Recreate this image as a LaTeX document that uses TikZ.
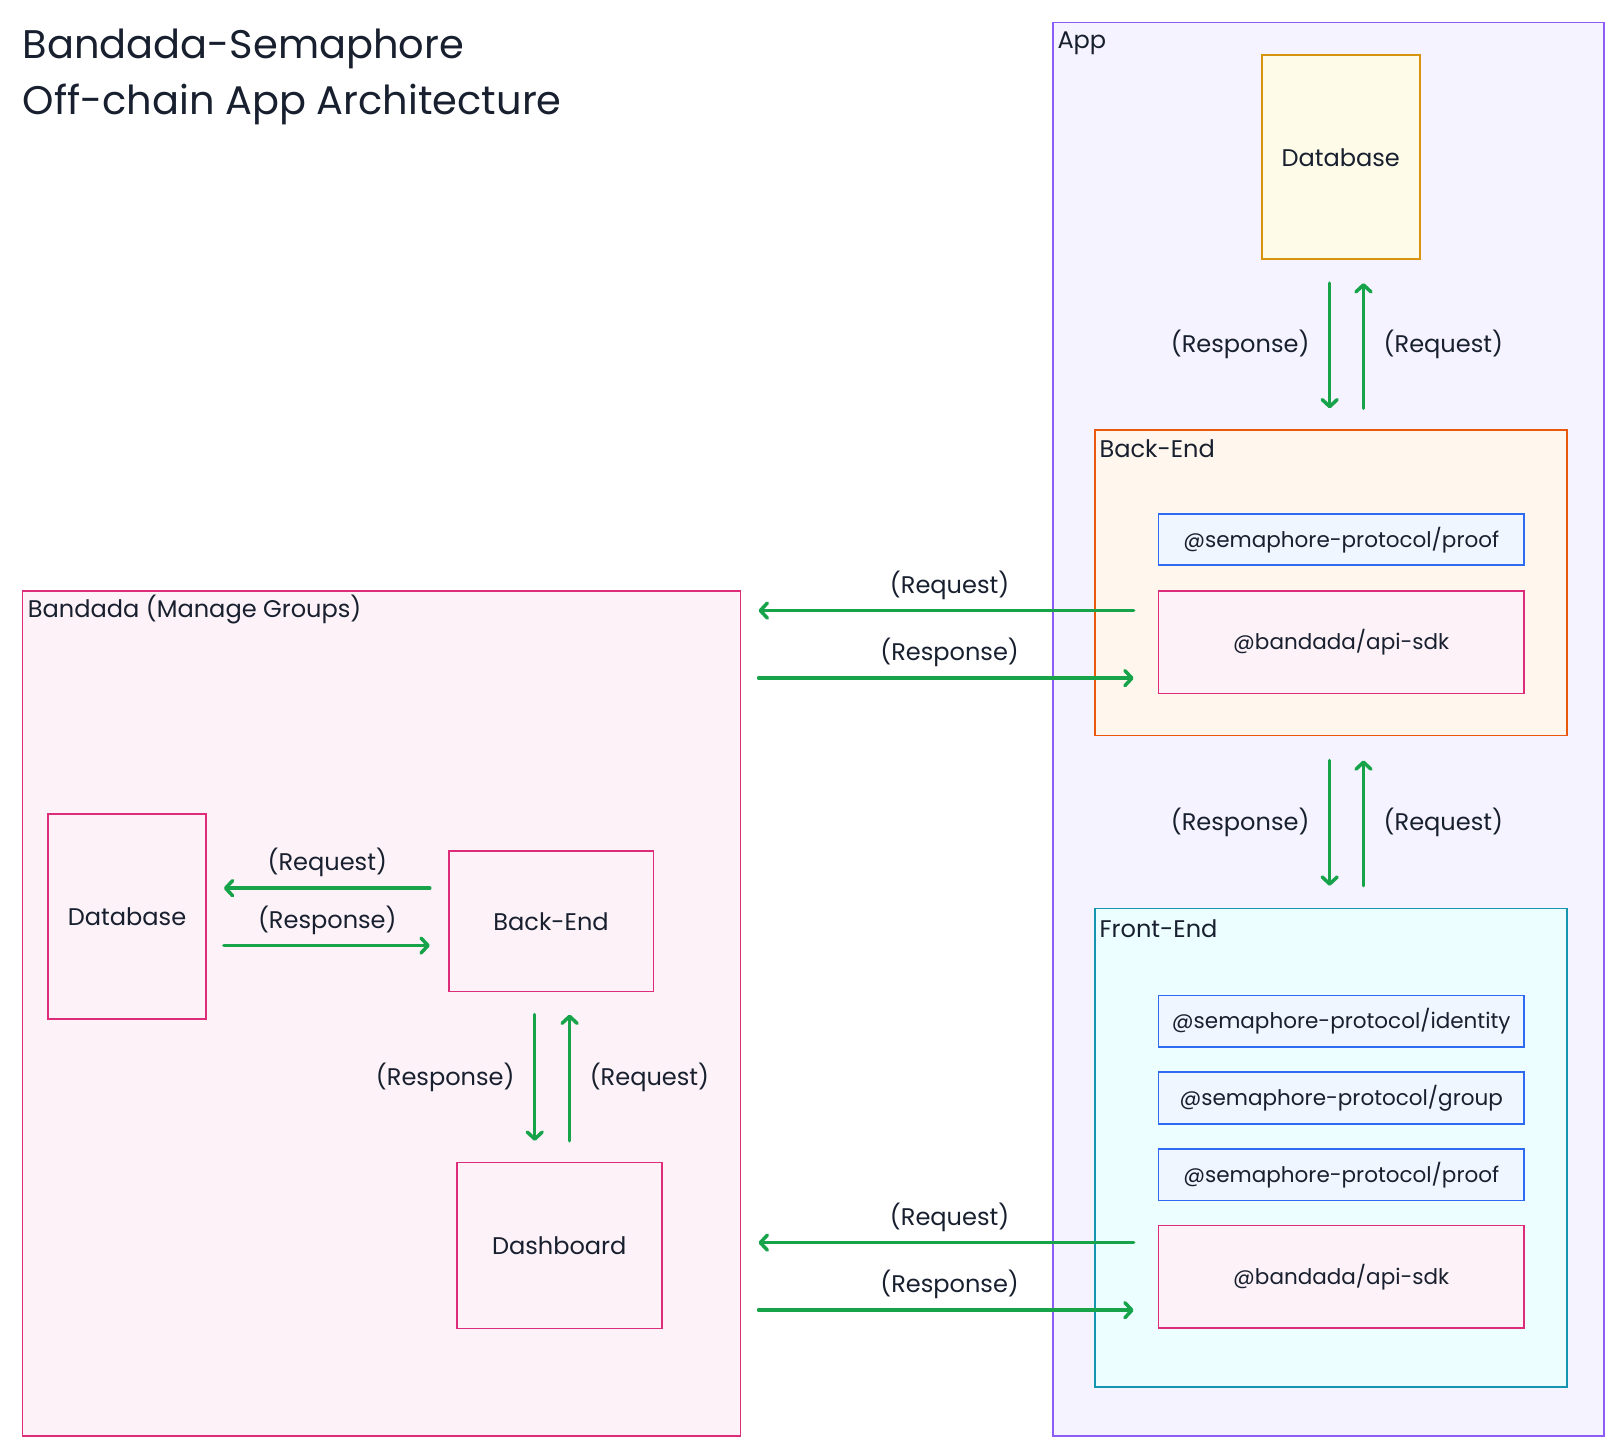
\documentclass[tikz,border=0pt]{standalone}
\usepackage{fontspec}
\setmainfont{Poppins}
\usepackage{tikz}
\usetikzlibrary{arrows.meta,positioning,calc}
\definecolor{ink}{HTML}{18202F}
\definecolor{flowgreen}{HTML}{16A34A}
\definecolor{appline}{HTML}{8B5CF6}
\definecolor{appfill}{HTML}{F5F3FF}
\definecolor{pinkline}{HTML}{DD2C7A}
\definecolor{pinkfill}{HTML}{FDF2F8}
\definecolor{dbline}{HTML}{D6930B}
\definecolor{dbfill}{HTML}{FEFBE8}
\definecolor{beline}{HTML}{EA580C}
\definecolor{befill}{HTML}{FFF7ED}
\definecolor{feline}{HTML}{1496B0}
\definecolor{fefill}{HTML}{ECFEFF}
\definecolor{pkgline}{HTML}{2F6BF0}
\definecolor{pkgfill}{HTML}{EFF6FF}

\begin{document}
\begin{tikzpicture}[x=1pt,y=-1pt,scale=1.0242,every node/.append style={transform shape},
    box/.style={rectangle,line width=1.8pt,inner sep=0pt,text=ink,font=\fontsize{23.5}{28}\selectfont},
    pkg/.style={box,draw=pkgline,fill=pkgfill,minimum width=357pt,minimum height=50pt,font=\fontsize{21}{25}\selectfont},
    sdk/.style={box,draw=pinkline,fill=pinkfill,minimum width=357pt,minimum height=100pt,font=\fontsize{21}{25}\selectfont},
    tag/.style={anchor=west,inner sep=0pt,text=ink,font=\fontsize{23.5}{28}\selectfont},
    flow/.style={draw=flowgreen,line width=3.5pt,line cap=round,-{Straight Barb[length=7pt,width=15pt,round]}},
    lbl/.style={inner sep=0pt,text=ink,font=\fontsize{23.5}{28}\selectfont}]
   \useasboundingbox (0,0) rectangle (1568,1404);

   % title
   \node[anchor=north west,inner sep=0pt,align=left,text=ink,font=\fontsize{39}{55}\selectfont]
     (title) at (22,28) {Bandada-Semaphore\\Off-chain App Architecture};

   % containers
   \node[box,draw=appline,fill=appfill,minimum width=538pt,minimum height=1380pt] (app) at (1297,712) {};
   \node[box,draw=pinkline,fill=pinkfill,minimum width=701pt,minimum height=825pt] (bandada) at (372.5,989.5) {};
   \node[box,draw=beline,fill=befill,minimum width=461pt,minimum height=298pt] (app_be) at (1299.5,569) {};
   \node[box,draw=feline,fill=fefill,minimum width=461pt,minimum height=467pt] (app_fe) at (1299.5,1120.5) {};
   \node[tag] at ([shift={(5pt,-21pt)}]app.north west) {App};
   \node[tag] at ([shift={(6pt,-19pt)}]bandada.north west) {Bandada (Manage Groups)};
   \node[tag] at ([shift={(5pt,-19pt)}]app_be.north west) {Back-End};
   \node[tag] at ([shift={(5pt,-20pt)}]app_fe.north west) {Front-End};

   % app
   \node[box,draw=dbline,fill=dbfill,minimum width=154pt,minimum height=199pt] (app_db) at (1309,153.5) {Database};
   \node[pkg] (be_proof) at (1309.5,527) {@semaphore-protocol/proof};
   \node[sdk] (be_sdk) at (1309.5,627) {@bandada/api-sdk};
   \node[pkg] (fe_id) at (1309.5,997) {@semaphore-protocol/identity};
   \node[pkg] (fe_group) at (1309.5,1072) {@semaphore-protocol/group};
   \node[pkg] (fe_proof) at (1309.5,1147) {@semaphore-protocol/proof};
   \node[sdk] (fe_sdk) at (1309.5,1246.5) {@bandada/api-sdk};

   % bandada
   \node[box,draw=pinkline,fill=pinkfill,minimum width=154pt,minimum height=200pt] (b_db) at (124,895) {Database};
   \node[box,draw=pinkline,fill=pinkfill,minimum width=200pt,minimum height=137pt] (b_be) at (538,899.5) {Back-End};
   \node[box,draw=pinkline,fill=pinkfill,minimum width=200pt,minimum height=162pt] (b_dash) at (546,1216) {Dashboard};

   % app database <-> back-end
   \draw[flow,shorten <=23pt,shorten >=21pt] ([xshift=-11pt]app_db.south) -- ([xshift=-11pt]app_db.south |- app_be.north)
     node[lbl,midway,left=18pt] {(Response)};
   \draw[flow,shorten <=21pt,shorten >=23pt] ([xshift=22pt]app_db.south |- app_be.north) -- ([xshift=22pt]app_db.south)
     node[lbl,midway,right=18pt] {(Request)};

   % back-end <-> front-end
   \draw[flow,shorten <=24pt,shorten >=22pt] ([xshift=-11pt]app_db.south |- app_be.south) -- ([xshift=-11pt]app_db.south |- app_fe.north)
     node[lbl,midway,left=18pt] {(Response)};
   \draw[flow,shorten <=22pt,shorten >=24pt] ([xshift=22pt]app_db.south |- app_fe.north) -- ([xshift=22pt]app_db.south |- app_be.south)
     node[lbl,midway,right=18pt] {(Request)};

   % api-sdk <-> bandada
   \draw[flow,shorten <=24pt,shorten >=17pt] ([yshift=31pt]be_sdk.west) -- ([yshift=31pt]be_sdk.west -| bandada.east)
     node[lbl,midway,above=9pt] {(Request)};
   \draw[flow,shorten <=17pt,shorten >=24pt] ([yshift=-35pt]be_sdk.west -| bandada.east) -- ([yshift=-35pt]be_sdk.west)
     node[lbl,midway,above=9pt] {(Response)};
   \draw[flow,shorten <=24pt,shorten >=17pt] ([yshift=33.5pt]fe_sdk.west) -- ([yshift=33.5pt]fe_sdk.west -| bandada.east)
     node[lbl,midway,above=9pt] {(Request)};
   \draw[flow,shorten <=17pt,shorten >=24pt] ([yshift=-32.5pt]fe_sdk.west -| bandada.east) -- ([yshift=-32.5pt]fe_sdk.west)
     node[lbl,midway,above=9pt] {(Response)};

   % bandada database <-> back-end
   \draw[flow,shorten <=18pt,shorten >=17pt] ([yshift=32.5pt]b_be.west) -- ([yshift=32.5pt]b_be.west -| b_db.east)
     node[lbl,midway,above=9pt] {(Request)};
   \draw[flow,shorten <=17pt,shorten >=18pt] ([yshift=-23.5pt]b_be.west -| b_db.east) -- ([yshift=-23.5pt]b_be.west)
     node[lbl,midway,above=9pt] {(Response)};

   % back-end <-> dashboard
   \draw[flow,shorten <=22pt,shorten >=21pt] ([xshift=-16pt]b_be.south) -- ([xshift=-16pt]b_be.south |- b_dash.north)
     node[lbl,midway,left=18pt] {(Response)};
   \draw[flow,shorten <=21pt,shorten >=22pt] ([xshift=18pt]b_be.south |- b_dash.north) -- ([xshift=18pt]b_be.south)
     node[lbl,midway,right=18pt] {(Request)};
\end{tikzpicture}
\end{document}
